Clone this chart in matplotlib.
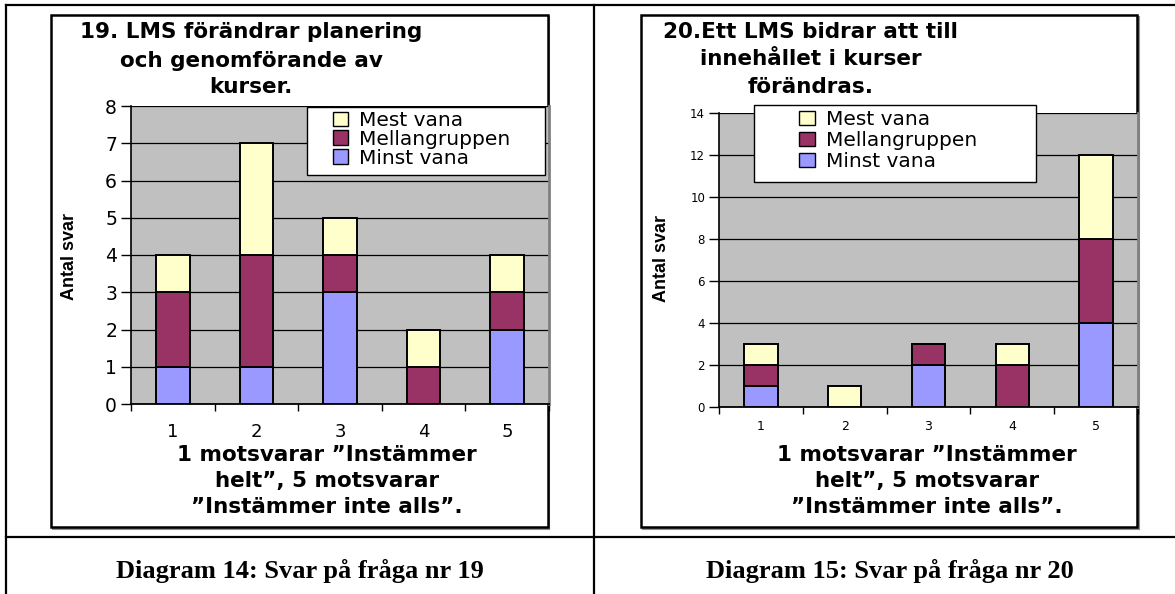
import numpy as np
import matplotlib.pyplot as plt
from matplotlib.patches import Rectangle, Patch

# data
categories = [1, 2, 3, 4, 5]
series_names = ['Minst vana', 'Mellangruppen', 'Mest vana']
series_colors = ['#9999FF', '#993366', '#FFFFCC']

q19_minst = [1, 1, 3, 0, 2]
q19_mellan = [2, 3, 1, 1, 1]
q19_mest = [1, 3, 1, 1, 1]

q20_minst = [1, 0, 2, 0, 4]
q20_mellan = [1, 0, 1, 2, 4]
q20_mest = [1, 1, 0, 1, 4]

q19_title = ['19. LMS förändrar planering', 'och genomförande av', 'kurser.']
q20_title = ['20.Ett LMS bidrar att till', 'innehållet i kurser', 'förändras.']
xlabel_lines = ['1 motsvarar ”Instämmer', 'helt”, 5 motsvarar', '”Instämmer inte alls”.']
ylabel = 'Antal svar'
captions = ['Diagram 14: Svar på fråga nr 19', 'Diagram 15: Svar på fråga nr 20']

W, H = 1175, 594
fig = plt.figure(figsize=(W / 100, H / 100), dpi=100)
fig.patch.set_facecolor('white')

# background layer in pixel coordinates (table lines, frames, texts)
bg = fig.add_axes([0, 0, 1, 1])
bg.set_xlim(0, W)
bg.set_ylim(H, 0)
bg.axis('off')

# table grid
bg.plot([5.5, W], [5, 5], color='black', lw=1.6)
bg.plot([5.5, 5.5], [5, H], color='black', lw=1.6)
bg.plot([594, 594], [5, H], color='black', lw=1.6)
bg.plot([5.5, W], [537, 537], color='black', lw=1.6)

# chart frames
for x0, x1 in [(51, 547.5), (641, 1137)]:
    bg.add_patch(Rectangle((x0 + 1.5, 16.5), x1 - x0, 527 - 15, facecolor='none',
                           edgecolor='#909090', lw=1.5))
    bg.add_patch(Rectangle((x0, 15), x1 - x0, 527 - 15, facecolor='white',
                           edgecolor='black', lw=1.8))

title_font = dict(family='DejaVu Sans', weight='bold', fontsize=15.5, color='black')


def draw_chart(rect, minst, mellan, mest, ymax, ystep, tick_fs, xtick_fs,
               title, title_x, title_base, xlab_x, ylab_x, ylab_y,
               leg_anchor, leg_box, leg_space):
    ax = fig.add_axes(rect)
    ax.set_facecolor('#C0C0C0')
    x = np.array(categories)
    bottom = np.zeros(len(categories))
    handles = []
    for vals, name, col in zip([minst, mellan, mest], series_names, series_colors):
        vals = np.array(vals, dtype=float)
        ax.bar(x, vals, width=0.4, bottom=bottom, color=col, edgecolor='black',
               linewidth=1.4, zorder=3)
        bottom += vals
        handles.append(Patch(facecolor=col, edgecolor='black', linewidth=1.0, label=name))

    ax.set_xlim(0.5, 5.5)
    ax.set_ylim(0, ymax)
    ax.set_yticks(np.arange(0, ymax + 1, ystep))
    ax.yaxis.grid(True, color='black', lw=0.9)
    ax.set_axisbelow(True)
    ax.set_xticks(x)
    ax.set_xticks(np.arange(0.5, 6.0, 1.0), minor=True)
    ax.tick_params(axis='x', which='major', length=0, labelsize=xtick_fs,
                   pad=xtick_fs * 1.05)
    ax.tick_params(axis='x', which='minor', length=5, width=1, direction='out')
    ax.tick_params(axis='y', length=7, width=1, direction='out', labelsize=tick_fs, pad=3)
    ax.spines['top'].set_visible(False)
    ax.spines['right'].set_color('#808080')
    ax.spines['right'].set_linewidth(2)
    ax.spines['left'].set_linewidth(1.2)
    ax.spines['bottom'].set_linewidth(1.3)

    # legend: white box plus entries
    bx0, by0, bw, bh = leg_box
    ax.add_patch(Rectangle((bx0, by0), bw, bh, transform=ax.transAxes, facecolor='white',
                           edgecolor='black', lw=1.0, clip_on=False, zorder=4.5))
    ax.legend(handles=handles[::-1], loc='upper left', bbox_to_anchor=leg_anchor,
              frameon=False, fontsize=14.5, handlelength=0.75, handleheight=0.75,
              handletextpad=0.55, labelspacing=leg_space, borderpad=0,
              borderaxespad=0).set_zorder(5)

    for line, yb in zip(title, title_base):
        bg.text(title_x, yb, line, ha='center', va='baseline', **title_font)
    for line, yb in zip(xlabel_lines, [460.7, 487.3, 513.3]):
        bg.text(xlab_x, yb, line, ha='center', va='baseline', **title_font)
    bg.text(ylab_x, ylab_y, ylabel, rotation=90, ha='center', va='center',
            family='Liberation Sans', weight='bold', fontsize=13)
    return ax


draw_chart([131 / W, (H - 404) / H, 418 / W, 298 / H], q19_minst, q19_mellan, q19_mest,
           8, 1, 13.5, 13, q19_title, 251, [38.3, 66.7, 93.3], 327, 70, 257,
           (0.483, 0.983), (0.421, 0.768, 0.569, 0.229), -0.01)

draw_chart([719 / W, (H - 407) / H, 419 / W, 294 / H], q20_minst, q20_mellan, q20_mest,
           14, 2, 8.5, 9, q20_title, 810.5, [38.3, 65, 92.7], 927, 661, 258.5,
           (0.192, 1.01), (0.0835, 0.765, 0.674, 0.262), 0.1)

for cx, cap in zip([300, 890], captions):
    bg.text(cx, 578.3, cap, ha='center', va='baseline', family='Liberation Serif',
            weight='bold', fontsize=19)

fig.savefig('out.png', dpi=100)
